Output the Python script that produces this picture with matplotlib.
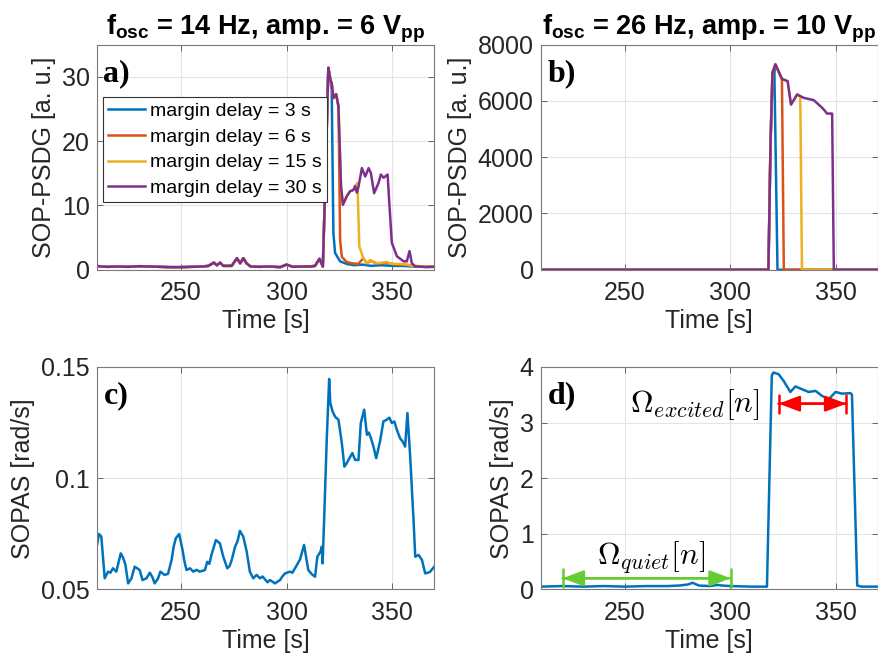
import numpy as np
import matplotlib.pyplot as plt

plt.rcParams['font.family'] = ['Liberation Sans', 'DejaVu Sans']
plt.rcParams['mathtext.fontset'] = 'custom'
plt.rcParams['mathtext.rm'] = 'Liberation Sans:bold'
plt.rcParams['mathtext.bf'] = 'Liberation Sans:bold'

# MATLAB default line colours
colors = ['#0072BD', '#D95319', '#EDB120', '#7E2F8E']
delays = [3, 6, 15, 30]

# --- panel a: SOP-PSDG, 14 Hz / 6 Vpp ---
a_pre_t = [210, 212, 215, 220, 225, 230, 235, 240, 245, 250, 255, 260, 263, 265.5, 267, 268.5,
           270, 274, 276.5, 278, 279.5, 281, 283, 287, 292, 297, 300, 303, 307, 311, 313.5, 315.6,
           317.2, 318.5, 319.8]
a_pre_v = [0.6, 0.5, 0.45, 0.5, 0.45, 0.55, 0.5, 0.45, 0.4, 0.4, 0.45, 0.5, 0.6, 1.1, 0.7, 1.1,
           0.6, 0.6, 1.8, 1.0, 1.8, 1.0, 0.5, 0.45, 0.5, 0.4, 0.8, 0.45, 0.5, 0.5, 0.6, 1.7,
           0.5, 15.0, 31.4]

a3_t = [320.6, 321.4, 322.2, 323.0, 325.4, 328.5, 332, 336, 340, 345, 350, 355, 360, 365, 370]
a3_v = [30.0, 28.0, 5.7, 2.6, 1.3, 0.9, 0.7, 0.8, 0.6, 0.7, 0.6, 0.6, 0.5, 0.5, 0.5]

a6_t = [320.8, 321.4, 322.2, 323.5, 324.6, 325.4, 326.2, 328.5, 331, 334, 336.4, 338, 340,
        343, 347, 352, 356, 360, 365, 370]
a6_v = [29.5, 29.0, 26.7, 27.3, 25.4, 4.6, 2.0, 1.2, 1.0, 0.9, 1.8, 1.0, 1.4, 0.9, 1.1, 0.8,
        0.8, 0.6, 0.5, 0.5]

a15_t = [320.8, 321.4, 322.2, 323.5, 324.6, 325.8, 326.7, 328.5, 330.1, 331.7, 332.5, 333.6,
         334.5, 336.4, 338, 339.6, 342.8, 347.5, 350, 353.8, 357, 360, 365, 370]
a15_v = [29.5, 29.0, 26.7, 27.3, 25.4, 13.1, 10.1, 11.4, 12.2, 12.4, 13.0, 13.5, 3.6, 1.8,
         1.0, 1.5, 1.0, 1.2, 0.9, 0.9, 0.8, 0.6, 0.5, 0.5]

a30_t = [320.8, 321.4, 322.2, 323.5, 324.6, 325.8, 326.7, 328.5, 330.1, 331.7, 332.5, 333.3,
         334.1, 335.7, 337.3, 338.9, 340, 341.5, 343.6, 344.7, 346, 347.9, 348.8, 349.9, 352.3,
         355.5, 357, 358.3, 359.4, 361, 363, 366, 370]
a30_v = [29.5, 29.0, 26.7, 27.3, 25.4, 13.1, 10.1, 11.4, 12.2, 12.4, 13.0, 12.0, 12.9, 15.8,
         14.5, 15.8, 15.0, 11.9, 13.5, 14.8, 14.3, 14.8, 9.9, 4.2, 2.1, 1.3, 1.3, 2.9, 1.0,
         0.5, 0.5, 0.4, 0.45]

# --- panel b: SOP-PSDG, 26 Hz / 10 Vpp ---
b3_t = [210, 318.0, 319.0, 319.8, 320.8, 322.3, 370]
b3_v = [0, 0, 4500, 6500, 7150, 0, 0]
b6_t = [210, 318.0, 319.0, 319.9, 321.3, 322.5, 324.4, 325.3, 370]
b6_v = [0, 0, 4500, 7000, 7300, 7100, 6780, 0, 0]
b15_t = [210, 318.0, 319.0, 319.9, 321.3, 322.5, 324.4, 327.1, 328.7, 330.2, 331.6, 333.1,
         333.9, 370]
b15_v = [0, 0, 4500, 7000, 7300, 7100, 6780, 6700, 5870, 6050, 6230, 6150, 0, 0]
b30_t = [210, 318.0, 319.0, 319.9, 321.3, 322.5, 324.4, 327.1, 328.7, 330.2, 331.6, 334.7,
         337.5, 339.4, 341.8, 343.5, 344.5, 345.8, 348.2, 349.0, 370]
b30_v = [0, 0, 4500, 7000, 7300, 7100, 6780, 6700, 5870, 6050, 6230, 6110, 6060, 6030, 5870,
         5750, 5670, 5550, 5550, 0, 0]

# --- panel c: SOPAS, 14 Hz ---
c_t = [210, 211.1, 212.2, 213.8, 215.4, 216.5, 217.7, 219.3, 221.4, 222.5, 223.6, 224.9, 226.5,
       228, 229.2, 230.4, 231.7, 233.6, 235.2, 236.4, 237.5, 239, 240.2, 242.2, 243.8, 245.5,
       246.5, 247.5, 249.1, 250.7, 251.6, 252.6, 254.2, 255.8, 257.3, 258.9, 261.3, 262.4,
       263.4, 264.4, 266.5, 268.4, 270, 271.9, 273, 274, 275.6, 276.8, 277.9, 279.5, 281.1,
       282.6, 284.2, 285.8, 287.4, 288.6, 289.8, 291, 292.1, 293.3, 294.5, 296.9, 298, 299.3,
       301.6, 302.8, 304, 306.4, 308.3, 310.3, 312, 313.5, 314.6, 316.1, 316.7, 317.1, 317.8,
       319.1, 320.2, 320.7, 321.8, 323.1, 324.6, 326.2, 327.4, 328.5, 329.8, 331.2, 332.5,
       334.1, 335.2, 336.8, 338.1, 339, 340, 341.2, 342.5, 344.4, 345.9, 347.5, 348.7, 349.9,
       351.1, 352.3, 353.8, 355, 356.2, 357.3, 358.6, 360.2, 361, 362.6, 364.2, 365.7, 367,
       368.1, 370]
c_v = [0.0692, 0.0749, 0.0737, 0.055, 0.058, 0.0575, 0.0595, 0.058, 0.0662, 0.0643, 0.0612,
       0.0527, 0.055, 0.0602, 0.0595, 0.0587, 0.0542, 0.055, 0.0575, 0.0555, 0.0527, 0.0548,
       0.058, 0.0565, 0.057, 0.0632, 0.0692, 0.073, 0.0749, 0.0677, 0.0625, 0.0587, 0.0595,
       0.058, 0.0588, 0.058, 0.0587, 0.0624, 0.0615, 0.0655, 0.0722, 0.0707, 0.0647, 0.0595,
       0.0605, 0.0632, 0.0692, 0.0718, 0.0763, 0.0737, 0.067, 0.058, 0.055, 0.0565, 0.055,
       0.0558, 0.0545, 0.0532, 0.0542, 0.0535, 0.0527, 0.0542, 0.0558, 0.0572, 0.058, 0.0575,
       0.0595, 0.0635, 0.0700, 0.0587, 0.0568, 0.0557, 0.0647, 0.067, 0.0692, 0.0617, 0.081,
       0.1187, 0.1446, 0.134, 0.130, 0.1275, 0.1263, 0.1158, 0.1052, 0.1067, 0.109, 0.1113,
       0.1082, 0.1082, 0.1248, 0.1308, 0.1195, 0.1205, 0.118, 0.1142, 0.109, 0.117, 0.1255,
       0.1263, 0.1272, 0.1248, 0.1255, 0.1217, 0.118, 0.1165, 0.1142, 0.1293, 0.1097, 0.081,
       0.0647, 0.0655, 0.0632, 0.0572, 0.0575, 0.058, 0.0602]

# --- panel d: SOPAS, 26 Hz ---
d_t = [210, 220, 230, 240, 250, 260, 270, 276, 280, 282, 285, 290, 294, 296, 300, 310, 317.3,
       319.6, 320.4, 322.8, 325.2, 328.4, 330.8, 333.9, 337.1, 340.3, 343.4, 346.6, 349.8,
       353, 356.9, 357.6, 360.1, 362, 370]
d_v = [0.05, 0.06, 0.05, 0.06, 0.05, 0.06, 0.06, 0.07, 0.09, 0.12, 0.07, 0.06, 0.08, 0.07,
       0.06, 0.05, 0.05, 3.85, 3.9, 3.87, 3.75, 3.55, 3.65, 3.6, 3.55, 3.57, 3.48, 3.42, 3.55,
       3.52, 3.53, 3.5, 0.07, 0.05, 0.05]

quiet_window = (220.4, 300.2)
excited_window = (322.8, 355.0)

series_a = [(a_pre_t + a3_t, a_pre_v + a3_v), (a_pre_t + a6_t, a_pre_v + a6_v),
            (a_pre_t + a15_t, a_pre_v + a15_v), (a_pre_t + a30_t, a_pre_v + a30_v)]
series_b = [(b3_t, b3_v), (b6_t, b6_v), (b15_t, b15_v), (b30_t, b30_v)]

TXT = '#262626'


def style(ax, ylim, yticks, yticklabels=None):
    ax.set_xlim(210, 370)
    ax.set_xticks([250, 300, 350])
    ax.set_ylim(*ylim)
    ax.set_yticks(yticks)
    if yticklabels is not None:
        ax.set_yticklabels(yticklabels)
    ax.grid(True, color='#e4e4e4', lw=0.8)
    ax.set_axisbelow(True)
    ax.tick_params(direction='in', top=True, right=True, length=4, width=0.7,
                   color='#666666', labelcolor=TXT, labelsize=18)
    ax.tick_params(axis='x', pad=8)
    ax.tick_params(axis='y', pad=5)
    for s in ax.spines.values():
        s.set_color('#7a7a7a')
        s.set_linewidth(0.8)
    ax.set_xlabel('Time [s]', fontsize=18, color=TXT, labelpad=3)


def panel_label(ax, s):
    ax.text(0.02, 0.935, s, transform=ax.transAxes, fontsize=23, fontweight='bold',
            family=['Liberation Serif', 'DejaVu Serif'], va='top', ha='left')


fig = plt.figure(figsize=(8.79, 6.66), dpi=100)
ax_a = fig.add_axes([0.110, 0.595, 0.384, 0.338])
ax_b = fig.add_axes([0.615, 0.595, 0.384, 0.338])
ax_c = fig.add_axes([0.110, 0.115, 0.384, 0.334])
ax_d = fig.add_axes([0.615, 0.115, 0.384, 0.334])

title_kw = dict(fontsize=19.5, fontweight='bold', pad=7)

# a)
for (t, v), c, dl in zip(series_a, colors, delays):
    ax_a.plot(t, v, color=c, lw=1.8, label=f'margin delay = {dl} s')
style(ax_a, (0, 35), [0, 10, 20, 30])
ax_a.set_ylabel('SOP-PSDG [a. u.]', fontsize=18, color=TXT)
ax_a.set_title(r'$\mathbf{f_{osc}}$ = 14 Hz, amp. = 6 $\mathbf{V_{pp}}$', **title_kw)
leg = ax_a.legend(loc='upper left', bbox_to_anchor=(0.02, 0.766), fontsize=14,
                  handlelength=1.9, handletextpad=0.25, labelspacing=0.42, borderpad=0.25,
                  borderaxespad=0, fancybox=False, framealpha=1, edgecolor='#333333')
leg.get_frame().set_linewidth(0.8)
panel_label(ax_a, 'a)')

# b)
for (t, v), c in zip(series_b, colors):
    ax_b.plot(t, v, color=c, lw=1.8)
style(ax_b, (0, 8000), [0, 2000, 4000, 6000, 8000])
ax_b.set_ylabel('SOP-PSDG [a. u.]', fontsize=18, color=TXT)
ax_b.set_title(r'$\mathbf{f_{osc}}$ = 26 Hz, amp. = 10 $\mathbf{V_{pp}}$', **title_kw)
panel_label(ax_b, 'b)')

# c)
ax_c.plot(c_t, c_v, color=colors[0], lw=1.8)
style(ax_c, (0.05, 0.15), [0.05, 0.1, 0.15], ['0.05', '0.1', '0.15'])
ax_c.set_ylabel('SOPAS [rad/s]', fontsize=18, color=TXT)
panel_label(ax_c, 'c)')

# d)
ax_d.plot(d_t, d_v, color=colors[0], lw=1.8)
style(ax_d, (0, 4), [0, 1, 2, 3, 4])
ax_d.set_ylabel('SOPAS [rad/s]', fontsize=18, color=TXT)
panel_label(ax_d, 'd)')

for (x0, x1), y, col in [(quiet_window, 0.2, '#66CC33'), (excited_window, 3.34, '#FF0000')]:
    ax_d.annotate('', xy=(x1, y), xytext=(x0, y),
                  arrowprops=dict(arrowstyle='<|-|>,head_length=0.8,head_width=0.3',
                                  color=col, lw=1.8, shrinkA=0, shrinkB=0, mutation_scale=16))
    ax_d.annotate('', xy=(x1, y), xytext=(x0, y),
                  arrowprops=dict(arrowstyle='|-|,widthA=0.4,widthB=0.4',
                                  color=col, lw=1.8, shrinkA=0, shrinkB=0, mutation_scale=16))

ax_d.text(283.0, 3.19, r'$\Omega_{excited}[n]$', math_fontfamily='cm', fontsize=22.5,
          ha='center', va='baseline')
ax_d.text(262.3, 0.44, r'$\Omega_{quiet}[n]$', math_fontfamily='cm', fontsize=22.5,
          ha='center', va='baseline')

fig.savefig('out.png', dpi=100)
